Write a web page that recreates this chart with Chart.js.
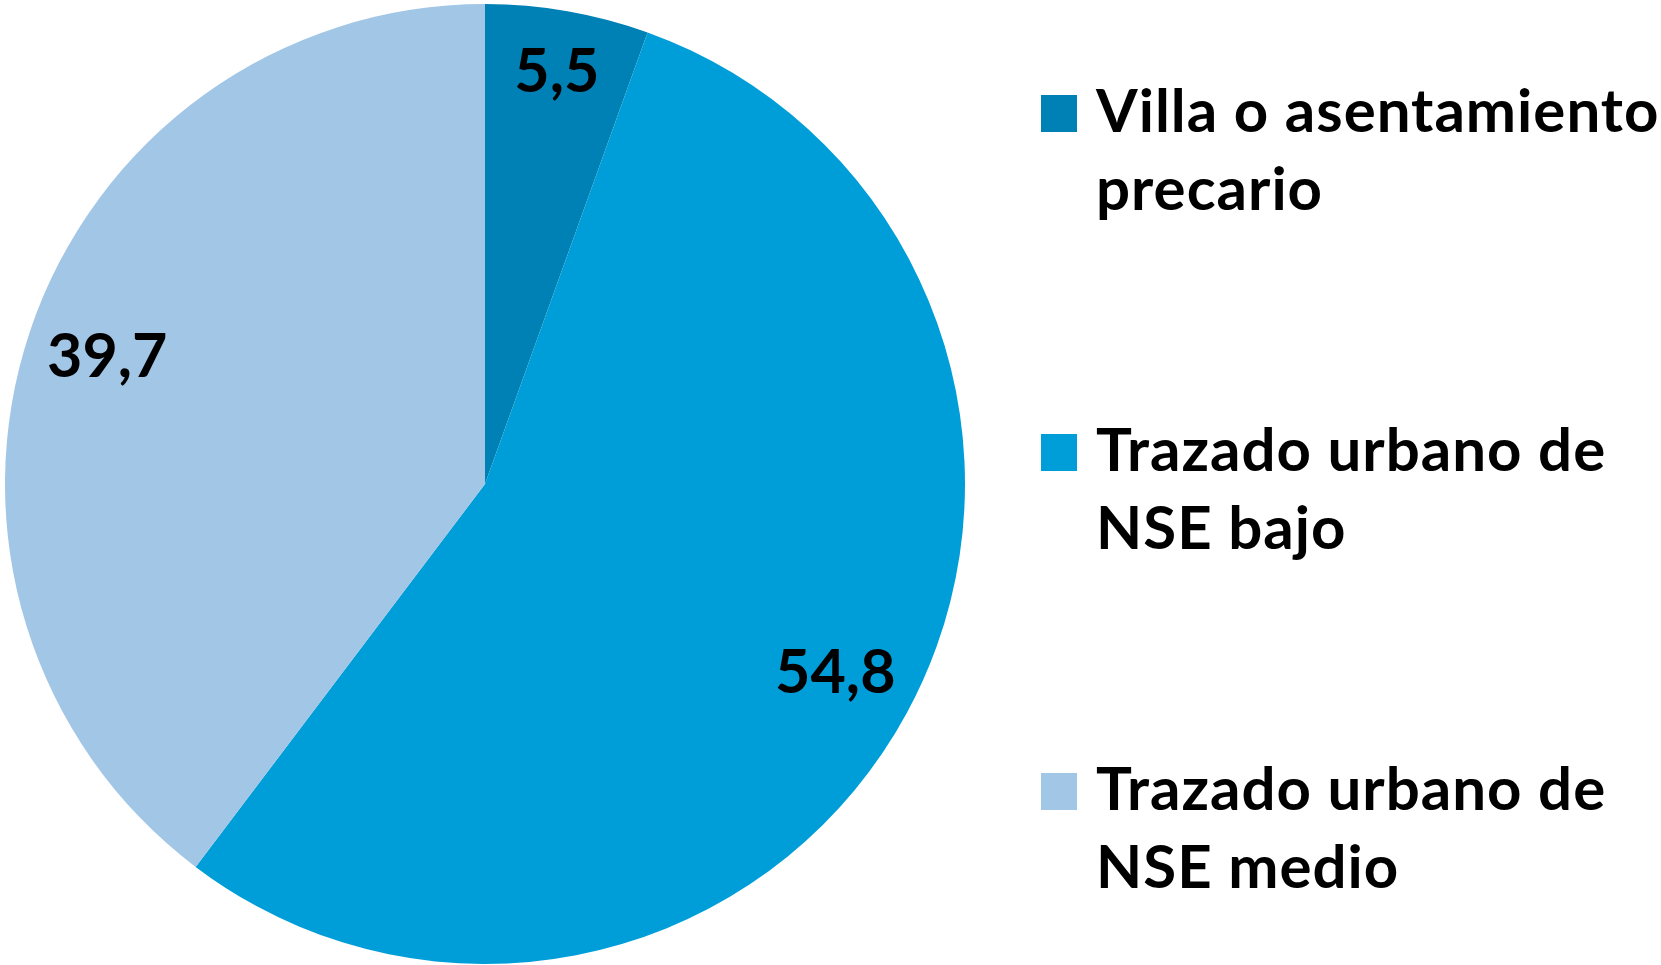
<!DOCTYPE html>
<html>
<head>
<meta charset="utf-8">
<script src="https://cdn.jsdelivr.net/npm/chart.js@4/dist/chart.umd.min.js"></script>
<style>
  html, body { margin: 0; padding: 0; background: #fff; }
  body { width: 1661px; height: 965px; position: relative; overflow: hidden; font-family: Lato, "Open Sans", sans-serif; }
  #wrap { position: absolute; left: 0; top: 0; width: 970px; height: 965px; }
  #legend { position: absolute; left: 1041px; top: 0; width: 620px; }
  .item { position: absolute; left: 0; }
  .box { position: absolute; left: 0; width: 36px; height: 37px; }
  .txt { position: absolute; left: 55px; top: 0; font-weight: 700; font-size: 60px; line-height: 78px; letter-spacing: 1px; color: #000; white-space: nowrap; }
</style>
</head>
<body>
<div id="wrap"><canvas id="pie"></canvas></div>
<div id="legend"></div>
<script>
const categories = [
  ["Villa o asentamiento", "precario"],
  ["Trazado urbano de", "NSE bajo"],
  ["Trazado urbano de", "NSE medio"],
];
const shares = [5.5, 54.8, 39.7];
const sliceColors = ["#0081B5", "#009ED9", "#A2C6E6"];
// how far out along the radius each value label sits
const labelRadius = [0.87, 0.83, 0.83];

const fmt = (v) => v.toFixed(1).replace(".", ",");

const sliceLabels = {
  id: "sliceLabels",
  afterDatasetsDraw(chart) {
    const ctx = chart.ctx;
    const meta = chart.getDatasetMeta(0);
    ctx.save();
    ctx.font = "700 61px Lato, sans-serif";
    ctx.fillStyle = "#000";
    ctx.textAlign = "center";
    ctx.textBaseline = "middle";
    meta.data.forEach((arc, i) => {
      const mid = (arc.startAngle + arc.endAngle) / 2;
      const r = arc.outerRadius * labelRadius[i];
      ctx.fillText(fmt(shares[i]), arc.x + Math.cos(mid) * r, arc.y + Math.sin(mid) * r);
    });
    ctx.restore();
  },
};

new Chart(document.getElementById("pie"), {
  type: "pie",
  data: {
    labels: categories.map((c) => c.join(" ")),
    datasets: [
      {
        data: shares,
        backgroundColor: sliceColors,
        borderWidth: 0,
      },
    ],
  },
  options: {
    responsive: true,
    maintainAspectRatio: false,
    animation: false,
    layout: { padding: { top: 4, bottom: 1, left: 5, right: 5 } },
    plugins: { legend: { display: false }, tooltip: { enabled: false } },
  },
  plugins: [sliceLabels],
});

// legend on the right
const legend = document.getElementById("legend");
categories.forEach((lines, i) => {
  const baseline = 132 + i * 339;
  const item = document.createElement("div");
  item.className = "item";
  item.innerHTML = `
    <div class="box" style="top:${baseline - 37}px;background:${sliceColors[i]}"></div>
    <div class="txt" style="top:${baseline - 62}px">${lines.join("<br>")}</div>`;
  legend.appendChild(item);
});
</script>
</body>
</html>
